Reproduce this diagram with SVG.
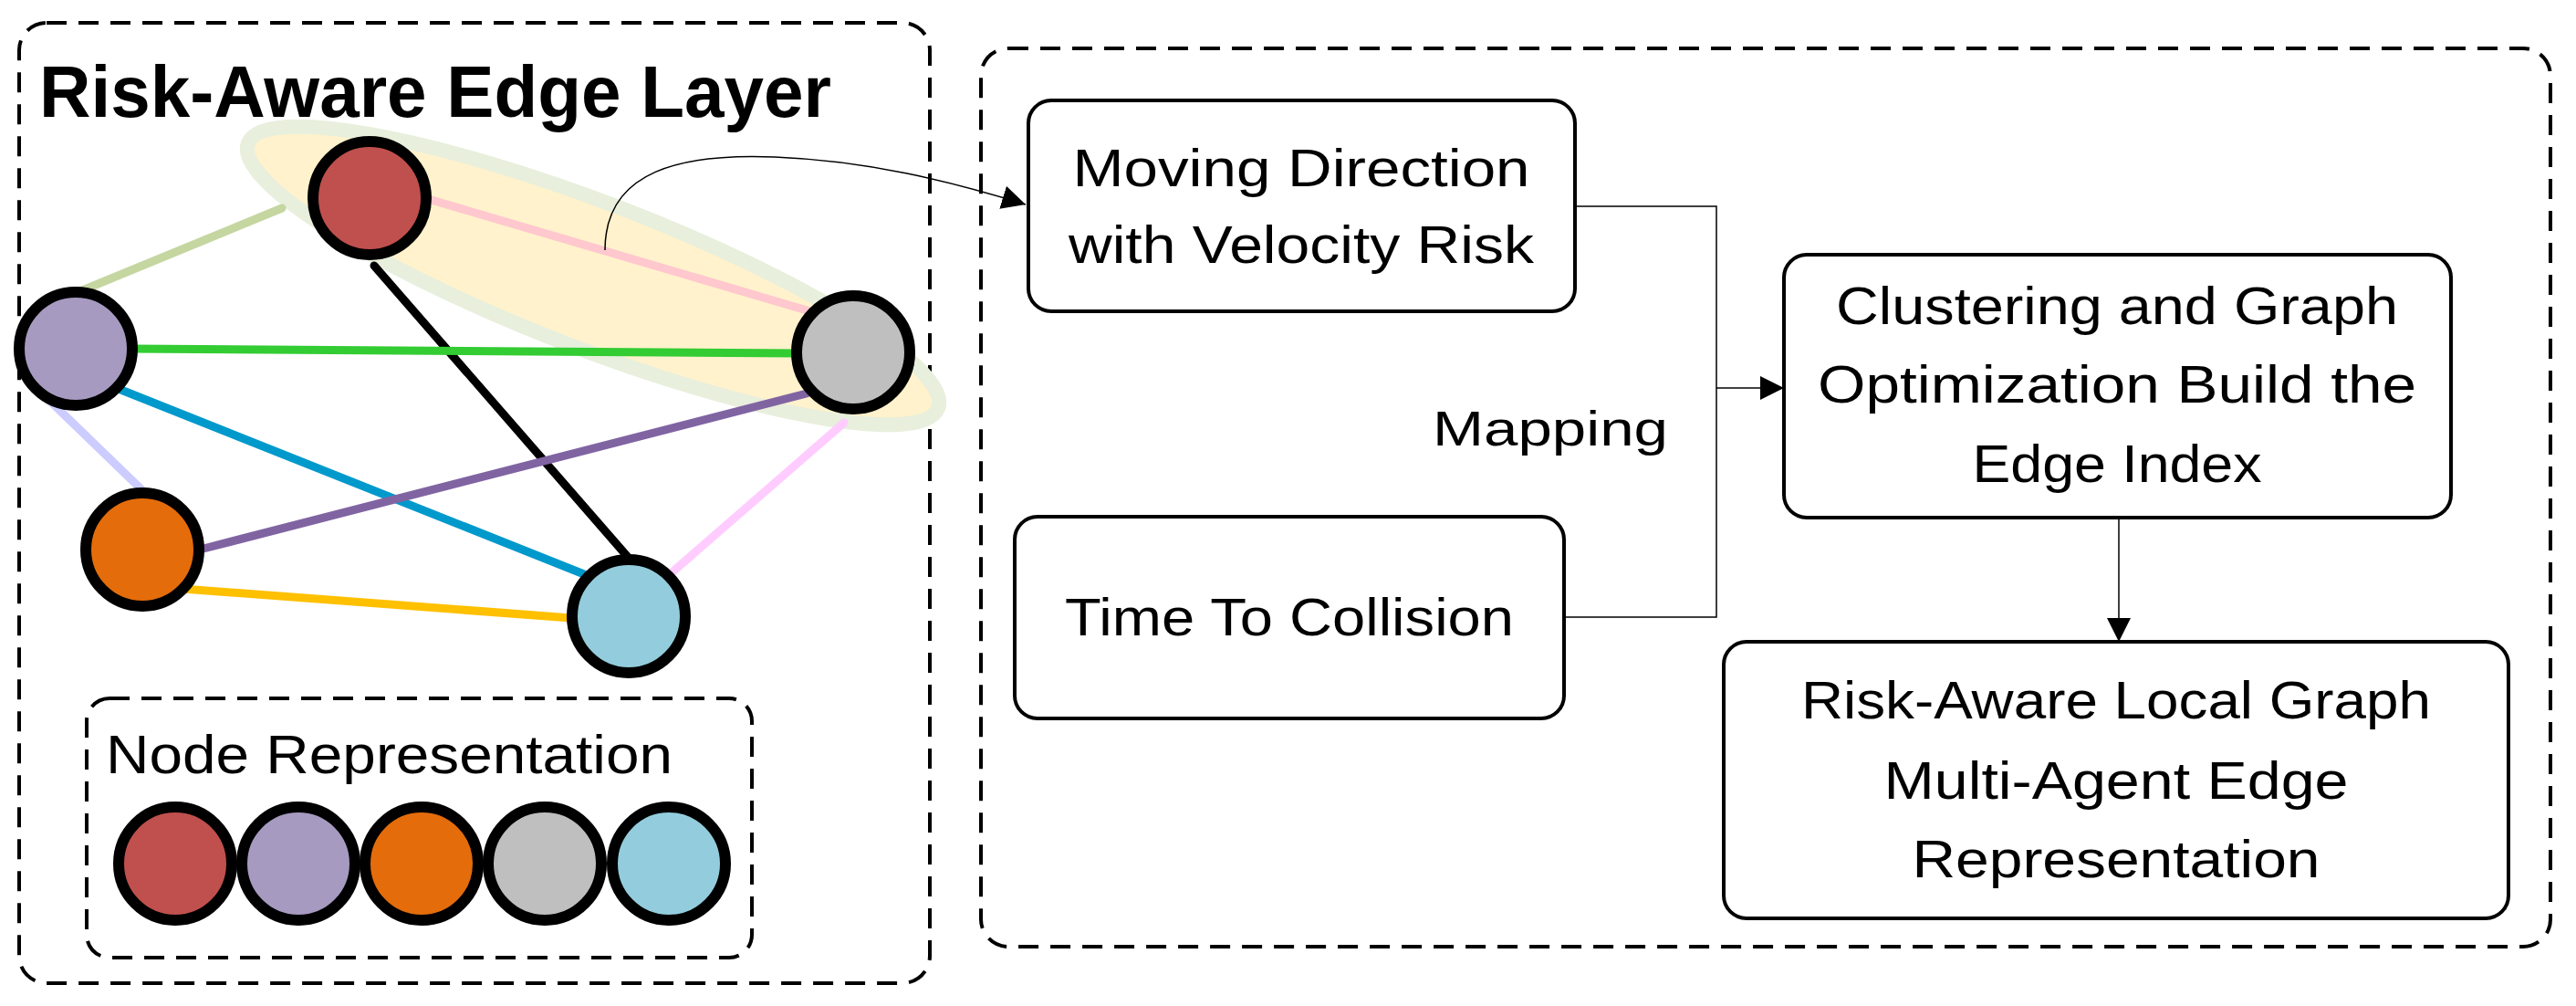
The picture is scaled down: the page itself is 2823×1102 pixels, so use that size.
<svg xmlns="http://www.w3.org/2000/svg" width="2823" height="1102" viewBox="0 0 2823 1102">
<style>
.dash{fill:none;stroke:#000;stroke-width:4;stroke-dasharray:22 13}
.box{fill:#fff;stroke:#000;stroke-width:4}
.t{font-family:"Liberation Sans",Arial,sans-serif;font-size:57px;fill:#000;text-anchor:middle}
.node{stroke:#000;stroke-width:12}
.e{stroke-width:9;stroke-linecap:round;fill:none}
.c{stroke:#000;stroke-width:1.5;fill:none}
</style>
<defs>
<marker id="ah" viewBox="0 0 10 10" refX="10" refY="5" markerWidth="10" markerHeight="10" markerUnits="userSpaceOnUse" orient="auto"><path d="M0,0L10,5L0,10z" fill="#000"/></marker>
<marker id="ah2" viewBox="0 0 10 10" refX="10" refY="5" markerWidth="26" markerHeight="26" markerUnits="userSpaceOnUse" orient="auto"><path d="M0,0L10,5L0,10z" fill="#000"/></marker>
</defs>
<g id="left-panel">
<rect class="dash" x="21" y="25" width="998" height="1052" rx="30"/>
<text x="43" y="128" font-family="'Liberation Sans',Arial,sans-serif" font-weight="bold" font-size="80" textLength="868" lengthAdjust="spacingAndGlyphs">Risk-Aware Edge Layer</text>
</g>
<g id="highlight">
<ellipse cx="650" cy="302" rx="405" ry="80" transform="rotate(21 650 302)" fill="#FFF2CC" stroke="#E8EFDC" stroke-width="16"/>
</g>
<g id="edges">
<line class="e" x1="309" y1="228" x2="83" y2="321" stroke="#C5D6A0"/>
<line class="e" x1="466" y1="217" x2="891" y2="342" stroke="#FFC7CE"/>
<line class="e" x1="410" y1="291" x2="687" y2="609" stroke="#000"/>
<line class="e" x1="144" y1="382" x2="873" y2="387" stroke="#33CC33"/>
<line class="e" x1="125" y1="424" x2="645" y2="631" stroke="#0099CC"/>
<line class="e" x1="39" y1="424" x2="158" y2="539" stroke="#CCCCFF"/>
<line class="e" x1="219" y1="602" x2="884" y2="431" stroke="#8064A2"/>
<line class="e" x1="200" y1="645" x2="626" y2="677" stroke="#FFC000"/>
<line class="e" x1="733" y1="630" x2="925" y2="463" stroke="#FFCCFF"/>
</g>
<g id="node-red"><circle class="node" cx="405" cy="217" r="62" fill="#C0504D"/></g>
<g id="node-purple"><circle class="node" cx="83" cy="382" r="62" fill="#A79AC0"/></g>
<g id="node-gray"><circle class="node" cx="935" cy="386" r="62" fill="#BFBFBF"/></g>
<g id="node-orange"><circle class="node" cx="156" cy="602" r="62" fill="#E46C0A"/></g>
<g id="node-cyan"><circle class="node" cx="689" cy="675" r="62" fill="#93CDDD"/></g>
<g id="legend">
<rect class="dash" x="95" y="765" width="729" height="284" rx="25"/>
<text x="116" y="847" font-family="'Liberation Sans',Arial,sans-serif" font-size="59" textLength="621" lengthAdjust="spacingAndGlyphs">Node Representation</text>
<circle class="node" cx="192" cy="946" r="62" fill="#C0504D"/>
<circle class="node" cx="327" cy="946" r="62" fill="#A79AC0"/>
<circle class="node" cx="462" cy="946" r="62" fill="#E46C0A"/>
<circle class="node" cx="597" cy="946" r="62" fill="#BFBFBF"/>
<circle class="node" cx="733" cy="946" r="62" fill="#93CDDD"/>
</g>
<g id="right-panel"><rect class="dash" x="1075" y="53" width="1720" height="984" rx="30"/></g>
<g id="connectors">
<path class="c" d="M663,274 C663,185 750,168 849,172 C950,176 1040,198 1124,224" marker-end="url(#ah2)"/>
<polyline class="c" points="1726,226 1881,226 1881,676 1714,676"/>
<line class="c" x1="1881" y1="425" x2="1955" y2="425" marker-end="url(#ah2)"/>
<line class="c" x1="2322" y1="567" x2="2322" y2="703" marker-end="url(#ah2)"/>
</g>
<g id="box-moving">
<rect class="box" x="1127" y="110" width="599" height="231" rx="25"/>
<text class="t" x="1426" y="204" textLength="501" lengthAdjust="spacingAndGlyphs">Moving Direction</text>
<text class="t" x="1426" y="288" textLength="510" lengthAdjust="spacingAndGlyphs">with Velocity Risk</text>
</g>
<g id="box-ttc">
<rect class="box" x="1112" y="566" width="602" height="221" rx="25"/>
<text class="t" x="1413" y="696" textLength="492" lengthAdjust="spacingAndGlyphs">Time To Collision</text>
</g>
<g id="box-cluster">
<rect class="box" x="1955" y="279" width="731" height="288" rx="25"/>
<text class="t" x="2320" y="355" textLength="616" lengthAdjust="spacingAndGlyphs">Clustering and Graph</text>
<text class="t" x="2320" y="441" textLength="656" lengthAdjust="spacingAndGlyphs">Optimization Build the</text>
<text class="t" x="2320" y="528" textLength="317" lengthAdjust="spacingAndGlyphs">Edge Index</text>
</g>
<g id="box-result">
<rect class="box" x="1889" y="703" width="860" height="303" rx="25"/>
<text class="t" x="2319" y="787" textLength="690" lengthAdjust="spacingAndGlyphs">Risk-Aware Local Graph</text>
<text class="t" x="2319" y="875" textLength="509" lengthAdjust="spacingAndGlyphs">Multi-Agent Edge</text>
<text class="t" x="2319" y="961" textLength="447" lengthAdjust="spacingAndGlyphs">Representation</text>
</g>
<g id="label-mapping">
<text x="1570" y="488" font-family="'Liberation Sans',Arial,sans-serif" font-size="54" textLength="258" lengthAdjust="spacingAndGlyphs">Mapping</text>
</g>
</svg>
